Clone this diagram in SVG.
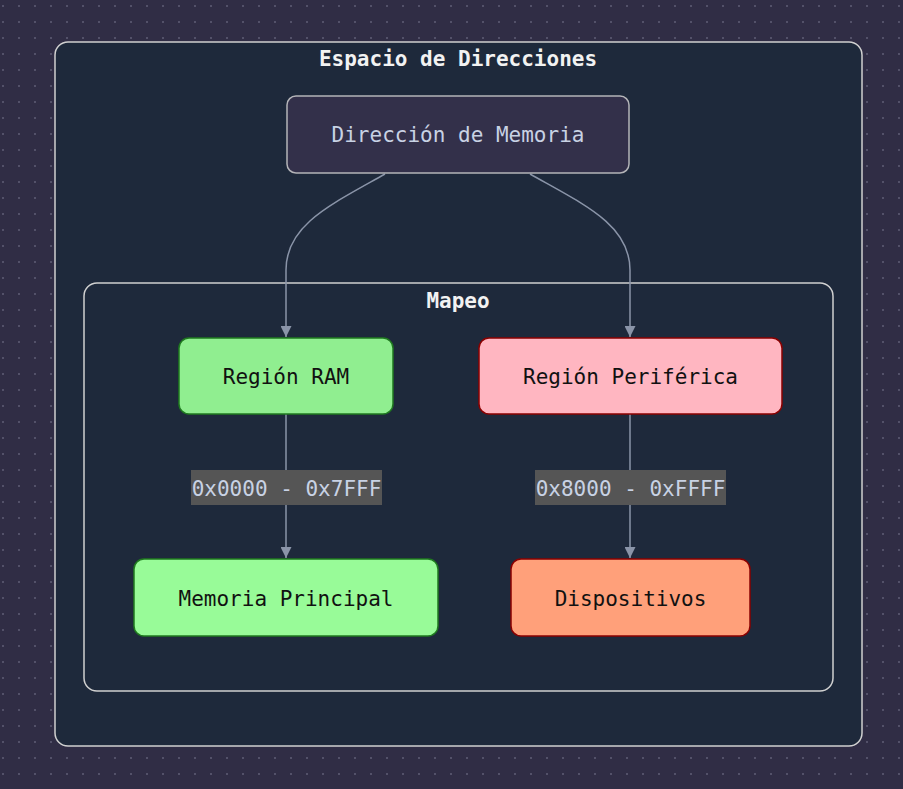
<svg xmlns="http://www.w3.org/2000/svg" width="903" height="789" viewBox="0 0 903 789">
<defs>
<pattern id="dots" x="0" y="0" width="16" height="16" patternUnits="userSpaceOnUse">
<rect x="2.2" y="5.2" width="1.6" height="1.6" fill="#67647c"/>
</pattern>
<marker id="arr" viewBox="0 0 10 10" refX="10" refY="5" markerWidth="11" markerHeight="11" markerUnits="userSpaceOnUse" orient="auto">
<path d="M0,0 L10,5 L0,10 Z" fill="#8a94a8"/>
</marker>
<style>
.t{font-family:"DejaVu Sans Mono","Liberation Mono",monospace;font-size:21px;text-anchor:middle;dominant-baseline:central}
.title{font-weight:bold;fill:#f2f2f2}
.cl{fill:#1e293b;stroke:#d0d0d0;stroke-width:1.5}
.edge{fill:none;stroke:#8a94a8;stroke-width:1.5}
.lbl{fill:#555555}
.lt{fill:#c8d2e4}
.dark{fill:#111111}
</style>
</defs>
<rect width="903" height="789" fill="#302d45"/>
<rect width="903" height="789" fill="url(#dots)"/>
<g id="cluster-espacio">
<rect class="cl" x="55" y="42" width="807" height="704" rx="13"/>
<text class="t title" x="458" y="59">Espacio de Direcciones</text>
</g>
<g id="cluster-mapeo">
<rect class="cl" x="84" y="283" width="749" height="408" rx="13"/>
<text class="t title" x="458" y="301">Mapeo</text>
</g>
<g id="connectors">
<path class="edge" d="M385,174 C330,205 286,225 286,270 L286,337" marker-end="url(#arr)"/>
<path class="edge" d="M530,174 C585,205 630,225 630,270 L630,337" marker-end="url(#arr)"/>
<path class="edge" d="M286,414 L286,558" marker-end="url(#arr)"/>
<path class="edge" d="M630,414 L630,558" marker-end="url(#arr)"/>
<g id="label-ram">
<rect class="lbl" x="191" y="470" width="191" height="35"/>
<text class="t lt" x="286.5" y="489">0x0000 - 0x7FFF</text>
</g>
<g id="label-per">
<rect class="lbl" x="535" y="470" width="191" height="35"/>
<text class="t lt" x="630.5" y="489">0x8000 - 0xFFFF</text>
</g>
</g>
<g id="node-direccion">
<rect x="287" y="96" width="342" height="77" rx="9" fill="#33304a" stroke="#b4b4b8" stroke-width="1.5"/>
<text class="t lt" x="458" y="135">Dirección de Memoria</text>
</g>
<g id="node-ram">
<rect x="179" y="338" width="214" height="76" rx="10" fill="#90ee90" stroke="#1f7a1f" stroke-width="1.5"/>
<text class="t dark" x="286" y="377">Región RAM</text>
</g>
<g id="node-periferica">
<rect x="479" y="338" width="303" height="76" rx="10" fill="#ffb6c1" stroke="#8b0000" stroke-width="1.5"/>
<text class="t dark" x="630.5" y="377">Región Periférica</text>
</g>
<g id="node-memoria">
<rect x="134" y="559" width="304" height="77" rx="10" fill="#98fb98" stroke="#1f7a1f" stroke-width="1.5"/>
<text class="t dark" x="286" y="599">Memoria Principal</text>
</g>
<g id="node-dispositivos">
<rect x="511" y="559" width="239" height="77" rx="10" fill="#ffa07a" stroke="#8b0000" stroke-width="1.5"/>
<text class="t dark" x="630.5" y="599">Dispositivos</text>
</g>
</svg>
